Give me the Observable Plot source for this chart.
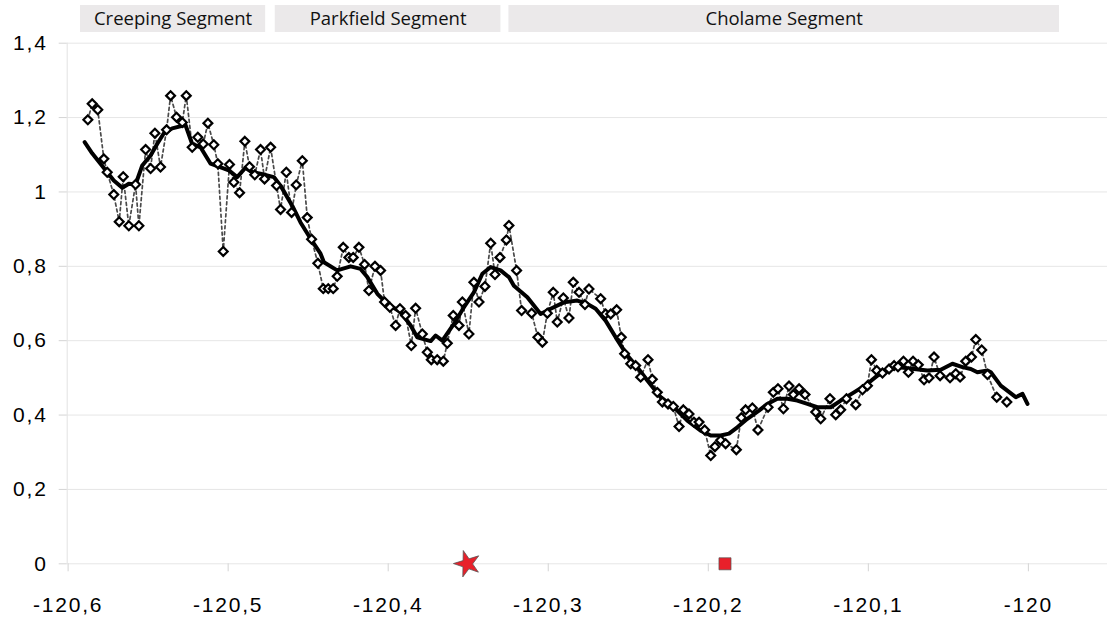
<!DOCTYPE html>
<html>
<head>
<meta charset="utf-8">
<script src="https://cdn.jsdelivr.net/npm/d3@7"></script>
<script src="https://cdn.jsdelivr.net/npm/@observablehq/plot@0.6"></script>
<style>
  html, body { margin: 0; padding: 0; background: #fff; }
  #chart { width: 1107px; }
  #chart svg { display: block; overflow: visible; }
</style>
</head>
<body>
<div id="chart"></div>
<script>
// ---- Data ----
const segmentNames = ["Creeping Segment", "Parkfield Segment", "Cholame Segment"];
const segmentStart = [-120.5917, -120.4700, -120.3240];
const segmentEnd   = [-120.4760, -120.3290, -119.9800];

const xTicks = [-120.6, -120.5, -120.4, -120.3, -120.2, -120.1, -120.0];
const xTickLabels = ["-120,6", "-120,5", "-120,4", "-120,3", "-120,2", "-120,1", "-120"];
const yTicks = [0, 0.2, 0.4, 0.6, 0.8, 1.0, 1.2, 1.4];
const yTickLabels = ["0", "0,2", "0,4", "0,6", "0,8", "1", "1,2", "1,4"];

const xDomain = [-120.6, -119.95];
const yDomain = [0, 1.4];

// raw measurements (diamonds, dotted line)
const pointLon = [
 -120.5871,-120.5844,-120.5809,-120.5771,-120.5750,-120.5709,-120.5675,-120.5650,-120.5615,-120.5573,
 -120.5552,-120.5510,-120.5479,-120.5452,-120.5417,-120.5379,-120.5354,-120.5317,-120.5281,-120.5256,
 -120.5219,-120.5184,-120.5150,-120.5121,-120.5084,-120.5059,-120.5025,-120.4986,-120.4959,-120.4923,
 -120.4890,-120.4861,-120.4828,-120.4792,-120.4767,-120.4729,-120.4692,-120.4667,-120.4631,-120.4598,
 -120.4569,-120.4531,-120.4500,-120.4473,-120.4434,-120.4400,-120.4369,-120.4338,-120.4313,-120.4275,
 -120.4240,-120.4213,-120.4177,-120.4142,-120.4115,-120.4077,-120.4042,-120.4017,-120.3984,-120.3948,
 -120.3921,-120.3886,-120.3850,-120.3823,-120.3781,-120.3750,-120.3725,-120.3688,-120.3650,-120.3625,
 -120.3588,-120.3552,-120.3531,-120.3490,-120.3459,-120.3427,-120.3390,-120.3354,-120.3327,-120.3296,
 -120.3256,-120.3240,-120.3192,-120.3161,-120.3098,-120.3059,-120.3031,-120.3000,-120.2963,-120.2938,
 -120.2900,-120.2865,-120.2838,-120.2802,-120.2765,-120.2740,-120.2667,-120.2636,-120.2604,-120.2567,
 -120.2538,-120.2517,-120.2479,-120.2448,-120.2417,-120.2371,-120.2344,-120.2313,-120.2281,-120.2246,
 -120.2213,-120.2177,-120.2150,-120.2115,-120.2084,-120.2052,-120.2017,-120.1979,-120.1953,-120.1917,
 -120.1886,-120.1819,-120.1788,-120.1761,-120.1719,-120.1684,-120.1621,-120.1588,-120.1559,-120.1525,
 -120.1490,-120.1463,-120.1427,-120.1390,-120.1323,-120.1292,-120.1234,-120.1198,-120.1167,-120.1131,
 -120.1073,-120.1031,-120.1000,-120.0975,-120.0942,-120.0906,-120.0865,-120.0833,-120.0809,-120.0775,
 -120.0744,-120.0715,-120.0682,-120.0646,-120.0615,-120.0584,-120.0546,-120.0484,-120.0448,-120.0421,
 -120.0386,-120.0350,-120.0323,-120.0286,-120.0250,-120.0192,-120.0129
];
const pointVal = [
 1.194,1.237,1.221,1.089,1.053,0.993,0.920,1.041,0.909,1.020,
 0.909,1.114,1.063,1.158,1.067,1.167,1.259,1.201,1.187,1.259,
 1.120,1.147,1.129,1.185,1.127,1.076,0.840,1.074,1.026,0.998,
 1.136,1.068,1.046,1.114,1.035,1.120,1.017,0.953,1.053,0.945,
 1.019,1.084,0.931,0.873,0.808,0.740,0.740,0.740,0.773,0.851,
 0.824,0.824,0.851,0.805,0.735,0.800,0.789,0.704,0.690,0.641,
 0.686,0.668,0.587,0.687,0.618,0.569,0.549,0.549,0.545,0.593,
 0.668,0.641,0.704,0.618,0.757,0.704,0.746,0.862,0.778,0.824,
 0.871,0.910,0.789,0.681,0.674,0.609,0.596,0.674,0.730,0.650,
 0.715,0.661,0.757,0.730,0.697,0.739,0.713,0.672,0.672,0.683,
 0.609,0.565,0.538,0.533,0.502,0.549,0.496,0.461,0.435,0.430,
 0.423,0.369,0.414,0.403,0.381,0.381,0.360,0.291,0.315,0.332,
 0.323,0.307,0.393,0.414,0.419,0.360,0.421,0.461,0.471,0.417,
 0.478,0.455,0.471,0.455,0.408,0.390,0.444,0.401,0.414,0.444,
 0.428,0.468,0.479,0.549,0.520,0.513,0.524,0.533,0.530,0.545,
 0.515,0.545,0.535,0.495,0.500,0.556,0.506,0.500,0.511,0.502,
 0.545,0.556,0.603,0.575,0.509,0.448,0.435
];

// smoothed curve (thick black line)
const smoothLon = [
 -120.5891,-120.5844,-120.5792,-120.5750,-120.5709,-120.5656,-120.5615,-120.5573,-120.5531,-120.5479,
 -120.5438,-120.5396,-120.5344,-120.5261,-120.5219,-120.5167,-120.5104,-120.5053,-120.4990,-120.4938,
 -120.4886,-120.4844,-120.4792,-120.4709,-120.4667,-120.4594,-120.4542,-120.4479,-120.4417,-120.4396,
 -120.4313,-120.4229,-120.4167,-120.4125,-120.4062,-120.4000,-120.3917,-120.3854,-120.3813,-120.3729,
 -120.3698,-120.3656,-120.3584,-120.3521,-120.3459,-120.3406,-120.3354,-120.3292,-120.3240,-120.3209,
 -120.3125,-120.3042,-120.2979,-120.2896,-120.2813,-120.2750,-120.2698,-120.2636,-120.2573,-120.2500,
 -120.2438,-120.2375,-120.2292,-120.2209,-120.2125,-120.2042,-120.1979,-120.1917,-120.1865,-120.1813,
 -120.1750,-120.1678,-120.1625,-120.1563,-120.1500,-120.1438,-120.1375,-120.1313,-120.1229,-120.1167,
 -120.1084,-120.1000,-120.0938,-120.0875,-120.0813,-120.0709,-120.0625,-120.0542,-120.0469,-120.0406,
 -120.0354,-120.0313,-120.0250,-120.0229,-120.0167,-120.0073,-120.0031,-120.0000
];
const smoothVal = [
 1.134,1.104,1.076,1.053,1.031,1.011,1.022,1.020,1.071,1.098,
 1.129,1.158,1.171,1.180,1.129,1.120,1.076,1.068,1.058,1.040,
 1.065,1.053,1.049,1.040,1.017,0.963,0.918,0.874,0.834,0.811,
 0.789,0.800,0.793,0.771,0.726,0.699,0.677,0.641,0.609,0.599,
 0.614,0.600,0.645,0.690,0.730,0.780,0.798,0.789,0.771,0.748,
 0.717,0.672,0.686,0.703,0.708,0.699,0.686,0.654,0.609,0.560,
 0.529,0.493,0.448,0.421,0.385,0.358,0.345,0.345,0.350,0.367,
 0.390,0.412,0.430,0.444,0.444,0.439,0.430,0.421,0.421,0.439,
 0.461,0.484,0.506,0.520,0.529,0.524,0.520,0.522,0.538,0.529,
 0.524,0.515,0.520,0.515,0.479,0.448,0.457,0.430
];

// event markers on the axis
const markerLon = [-120.35, -120.189];
const markerVal = [0, 0];
const markerSymbol = ["star", "square"];
const markerSize = [8.3, 6.8];
const markerRotate = [-17, 0];

// ---- Tables ----
const points = pointLon.map((x, i) => ({x, y: pointVal[i]}));
const smooth = smoothLon.map((x, i) => ({x, y: smoothVal[i]}));
const markers = markerLon.map((x, i) => ({x, y: markerVal[i], symbol: markerSymbol[i], r: markerSize[i], rotate: markerRotate[i]}));
const segments = segmentNames.map((name, i) => ({name, x1: segmentStart[i], x2: segmentEnd[i], mid: (segmentStart[i] + segmentEnd[i]) / 2}));

const W = 1107, ML = 66.7, MR = 0;
const tickFont = {fontFamily: "'Liberation Sans', Arial, sans-serif", fontSize: "21px", letterSpacing: "1.8px", color: "black", background: "white"};

const headerPlot = Plot.plot({
  width: W, height: 32, marginTop: 5, marginBottom: 0, marginLeft: ML, marginRight: MR,
  x: {domain: xDomain, axis: null},
  style: {fontFamily: "'Open Sans', 'Noto Sans', sans-serif", fontSize: "18.5px", background: "white"},
  marks: [
    Plot.barX(segments, {x1: "x1", x2: "x2", fill: "#ebe9ea"}),
    Plot.text(segments, {x: "mid", text: "name", frameAnchor: "middle", fill: "#111", fontSize: 18.5, dy: 0.5})
  ]
});

const mainPlot = Plot.plot({
  width: W, height: 588, marginTop: 10.7, marginBottom: 56.7, marginLeft: ML, marginRight: MR,
  x: {domain: xDomain},
  y: {domain: yDomain},
  r: {type: "identity"},
  style: tickFont,
  marks: [
    Plot.gridY(yTicks, {stroke: "#e6e6e6", strokeOpacity: 1}),
    Plot.ruleX([xDomain[0]], {y1: yDomain[0], y2: yDomain[1], stroke: "#e2e2e2"}),
    Plot.axisY({ticks: yTicks, tickFormat: d => yTickLabels[yTicks.indexOf(d)], tickSize: 8, tickPadding: 11.5, stroke: "#d4d4d4", fill: "black", label: null}),
    Plot.axisX({ticks: xTicks, tickFormat: d => xTickLabels[xTicks.indexOf(d)], tickSize: 8, tickPadding: 25.5, stroke: "#d4d4d4", fill: "black", label: null, dx: 0.9}),
    Plot.line(points, {x: "x", y: "y", stroke: "#4a4a4a", strokeWidth: 1.7, strokeDasharray: "3,3"}),
    Plot.line(smooth, {x: "x", y: "y", stroke: "black", strokeWidth: 4, strokeLinejoin: "round"}),
    Plot.dot(points, {x: "x", y: "y", symbol: "diamond2", r: 4, stroke: "black", strokeWidth: 2.2, fill: "white"}),
    Plot.dot(markers, {x: "x", y: "y", symbol: "symbol", r: "r", rotate: "rotate", fill: "#e8202a", stroke: "#555", strokeWidth: 0.7})
  ]
});

document.getElementById("chart").append(headerPlot, mainPlot);
</script>
</body>
</html>
